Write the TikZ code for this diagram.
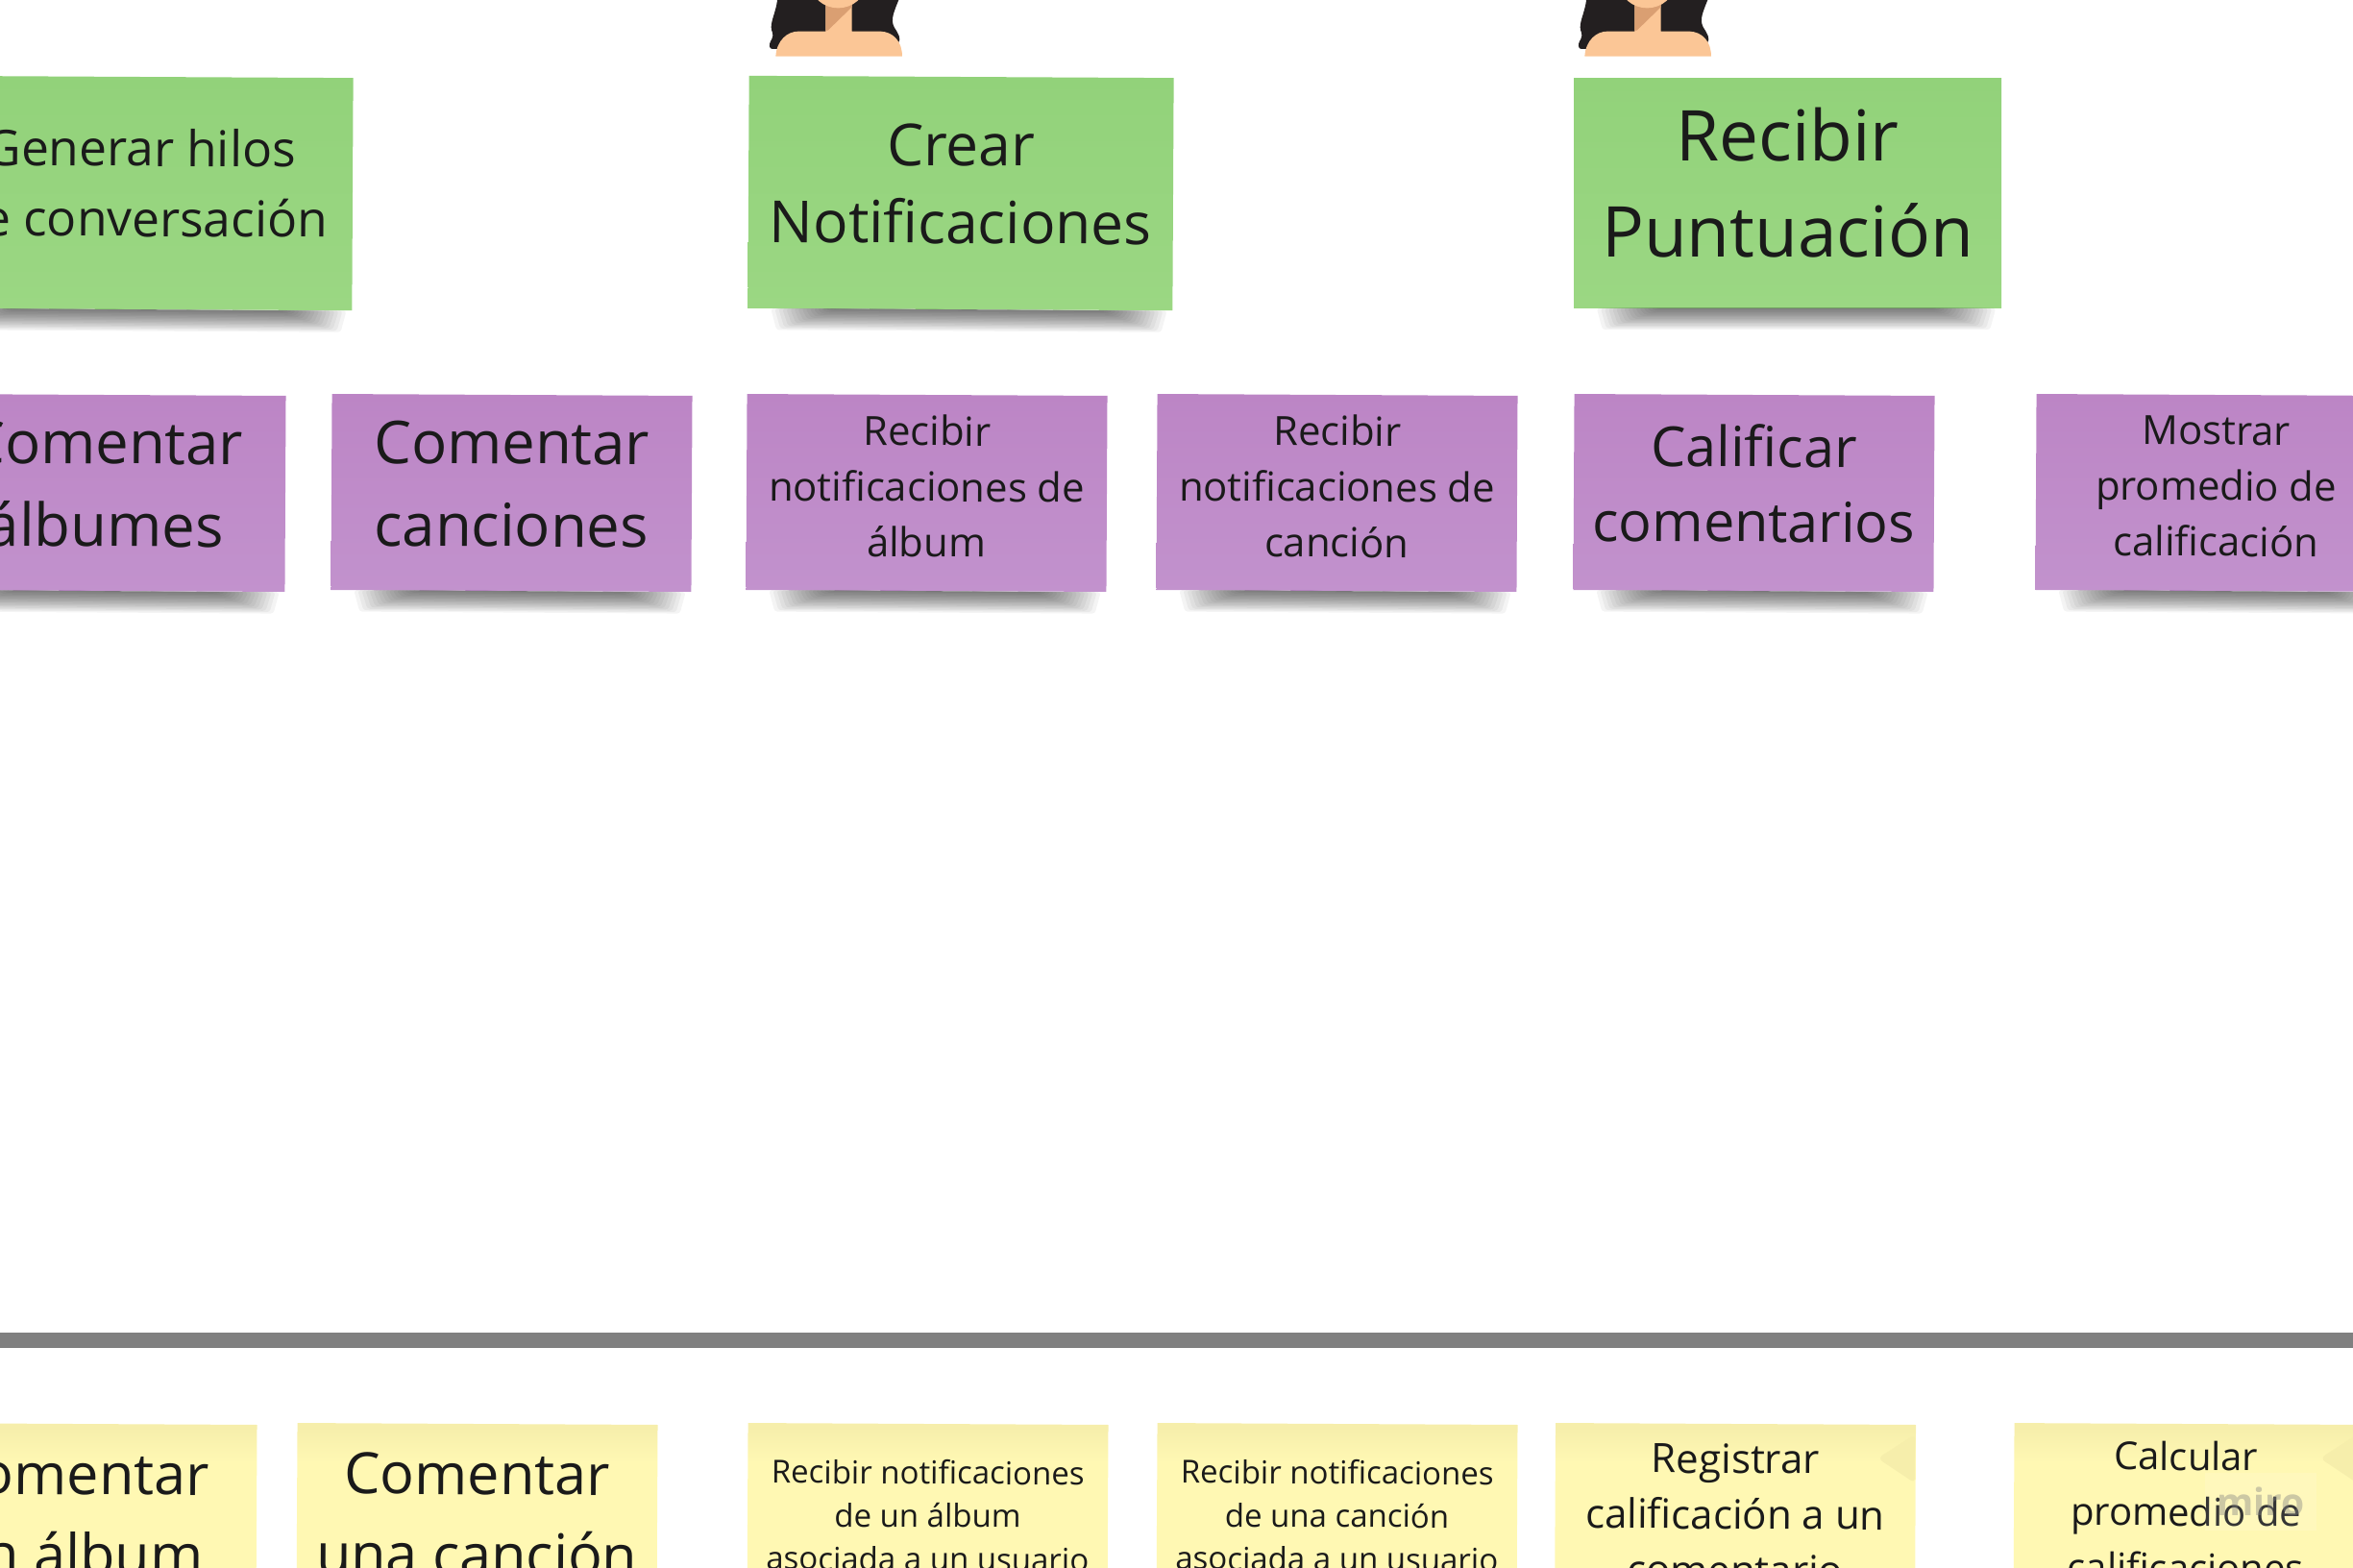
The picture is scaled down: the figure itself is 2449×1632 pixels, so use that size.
\documentclass[tikz,border=0pt]{standalone}
\usepackage{fontspec}
\setmainfont{Open Sans}
\usetikzlibrary{positioning,calc}

\definecolor{verdeA}{HTML}{92D27A}
\definecolor{verdeB}{HTML}{9BD783}
\definecolor{lilaA}{HTML}{BC85C5}
\definecolor{lilaB}{HTML}{C292CD}
\definecolor{amarA}{HTML}{F6EEAB}
\definecolor{amarB}{HTML}{FFF8B3}
\definecolor{pelo}{HTML}{231F20}
\definecolor{piel}{HTML}{FBC696}
\definecolor{cuello}{HTML}{DA9F72}
\definecolor{tinta}{HTML}{1A1A1A}

\pgfdeclareverticalshading{bandaamar}{100bp}{color(0bp)=(amarB); color(65bp)=(amarB); color(74bp)=(amarA); color(100bp)=(amarA)}

\tikzset{
  nota/.style={rectangle,inner sep=0pt,text=tinta,align=center,rotate=-0.3},
  verde/.style={nota,minimum width=442pt,minimum height=242pt,shading angle=20,top color=verdeA,bottom color=verdeB},
  lila/.style={nota,minimum width=375pt,minimum height=204pt,shading angle=20,top color=lilaA,bottom color=lilaB},
  amarilla/.style={nota,minimum width=375pt,minimum height=204pt,shading=bandaamar},
  fsz/.style n args={3}{font=\fontsize{#1}{#2}\selectfont,text depth=#3pt},
  mujer/.pic={
    \begin{scope}[scale=0.3333]
      \fill[pelo] (148,-10) .. controls (146,30) and (128,60) .. (128,85)
        .. controls (128,100) and (138,105) .. (130,122) .. controls (118,140) and (122,153) .. (132,153)
        -- (525,135) .. controls (535,120) and (525,105) .. (512,85) .. controls (500,60) and (510,40) .. (530,-10) -- cycle;
      \fill[piel] (142,176) .. controls (145,125) and (180,98) .. (212,98) -- (298,98) -- (298,-10) -- (380,-10)
        -- (380,98) -- (470,98) .. controls (510,100) and (537,130) .. (537,176) -- cycle;
      \fill[cuello] (298,-10) -- (380,-10) -- (380,22) -- (305,95) -- (298,95) -- cycle;
      \fill[piel] (337,-50) ellipse [x radius=85,y radius=75];
    \end{scope}
  }
}

\begin{document}
\begin{tikzpicture}[x=1pt,y=-1pt,on grid]
  \useasboundingbox (0,0) rectangle (2449,1632);
  \clip (0,0) rectangle (2449,1632);

  \pic (mujer_1) at (760,0) {mujer};
  \pic (mujer_2) at (1602,0) {mujer};

  % historias
  \node[verde,fsz={60.5}{81}{20}] (h_2) at (1000,201) {Crear\\Notificaciones};
  \node[verde,fsz={51.5}{73}{22}] (h_1) [left=854pt of h_2] {Generar hilos\\de conversación};
  \node[verde,minimum width=445pt,minimum height=239pt,rotate=0.3,fsz={73}{100}{22}] (h_3) [right=860.5pt of h_2] {Recibir\\Puntuación};

  % actividades
  \node[lila,fsz={61.6}{86}{19}] (a_1) at (109.5,513) {Comentar\\álbumes};
  \node[lila,fsz={61.6}{86}{19}] (a_2) [right=423pt of a_1] {Comentar\\canciones};
  \node[lila,fsz={41.8}{58}{14}] (a_3) [right=432pt of a_2] {Recibir\\notificaciones de\\álbum};
  \node[lila,fsz={41.8}{58}{14}] (a_4) [right=427pt of a_3] {Recibir\\notificaciones de\\canción};
  \node[lila,fsz={57.5}{78}{20}] (a_5) [right=434pt of a_4] {Calificar\\comentarios};
  \node[lila,fsz={41.8}{58}{14}] (a_6) [right=481pt of a_5] {Mostrar\\promedio de\\calificación};

  % separador
  \coordinate (sep_a) at (-5,1395);
  \coordinate (sep_b) at (2454,1395);
  \draw[line width=16pt,color=black!50] (sep_a) -- (sep_b);

  % tareas
  \node[amarilla,fsz={59.3}{84}{16}] (t_1) at (79.5,1584) {Comentar\\un álbum};
  \node[amarilla,fsz={59.3}{84}{16}] (t_2) [right=417pt of t_1] {Comentar\\una canción};
  \node[amarilla,fsz={33}{45}{14}] (t_3) [right=469pt of t_2] {Recibir notificaciones\\de un álbum\\asociada a un usuario};
  \node[amarilla,fsz={33}{45}{14}] (t_4) [right=426pt of t_3] {Recibir notificaciones\\de una canción\\asociada a un usuario};
  \node[amarilla,fsz={42}{58}{16}] (t_5) [right=414.5pt of t_4] {Registrar\\calificación a un\\comentario};
  \node[amarilla,minimum width=358pt,fsz={40}{58}{22}] (t_6) [right=469pt of t_5] {Calcular\\promedio de\\calificaciones};

  % dobleces
  \foreach \n in {t_5,t_6} {
    \fill[amarA,rounded corners=6pt] ($(\n.north east)+(-1,10)$) -- ($(\n.north east)+(-40,35)$) -- ($(\n.north east)+(-1,61)$) -- cycle;
  }

  \node[text=black!50,fill=white,fill opacity=.12,text opacity=.4,minimum width=116pt,minimum height=60pt,inner sep=0pt,font=\fontsize{39}{50}\selectfont\bfseries] (marca) at (2353,1563) {miro};

  % sombras
  \foreach \n in {h_1,h_2,h_3,a_1,a_2,a_3,a_4,a_5,a_6} {
    \foreach \k in {1,...,16} {
      \fill[black,opacity=.042,rounded corners=3pt]
        ($(\n.south west)+(88-4*\k,0)$) -- ($(\n.south west)+(94-4*\k,1.4*\k)$)
        -- ($(\n.south east)+(-76+4*\k,1.4*\k)$) -- ($(\n.south east)+(-70+4*\k,0)$) -- cycle;
    }
  }
\end{tikzpicture}
\end{document}
